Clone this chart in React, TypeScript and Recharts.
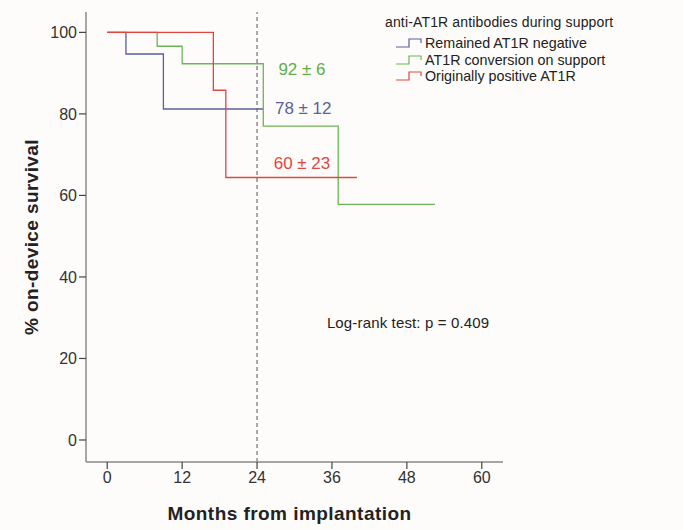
import React from "react";
import {
  Label,
  Line,
  LineChart,
  ReferenceDot,
  ReferenceLine,
  XAxis,
  YAxis,
} from "recharts";

const FONT = "Arial, 'Liberation Sans', sans-serif";

const xTicks = [0, 12, 24, 36, 48, 60];
const yTicks = [0, 20, 40, 60, 80, 100];

// Kaplan-Meier steps (months, % survival)
const negMonths = [0, 3, 9, 25];
const negSurv = [100, 94.7, 81.2, 81.2];
const convMonths = [0, 8, 12, 25, 37, 52.5];
const convSurv = [100, 96.6, 92.3, 77, 57.8, 57.8];
const posMonths = [0, 17, 19, 40];
const posSurv = [100, 85.8, 64.4, 64.4];

const seriesNames = [
  "Remained AT1R negative",
  "AT1R conversion on support",
  "Originally positive AT1R",
];
const seriesColors = ["#5b5f9c", "#6cb552", "#e2463f"];

const annotTexts = ["92 ± 6", "78 ± 12", "60 ± 23"];
const annotX = [31.2, 31.4, 31.2];
const annotY = [90.9, 81.4, 67.9];
const annotColors = ["#5fae45", "#5b5f9c", "#e2463f"];

const toRows = (months: number[], surv: number[]) =>
  months.map((m, i) => ({ month: m, surv: surv[i] }));

const series = [
  toRows(negMonths, negSurv),
  toRows(convMonths, convSurv),
  toRows(posMonths, posSurv),
];

function StepLegend() {
  return (
    <div style={{ fontFamily: FONT, color: "#222" }}>
      <div style={{ fontSize: 14, letterSpacing: 0.15, height: 20, lineHeight: "20px", marginBottom: 3 }}>
        anti-AT1R antibodies during support
      </div>
      {seriesNames.map((name, i) => (
        <div
          key={name}
          style={{ display: "flex", alignItems: "center", height: 16.4, paddingLeft: 10 }}
        >
          <svg width={28} height={14} style={{ marginRight: 2, flexShrink: 0 }}>
            <path
              d="M1,11 H14 V3 H26 V7"
              fill="none"
              stroke={seriesColors[i]}
              strokeWidth={1.2}
            />
          </svg>
          <span style={{ fontSize: 14.3, whiteSpace: "nowrap" }}>{name}</span>
        </div>
      ))}
    </div>
  );
}

export default function App() {
  return (
    <div
      style={{
        position: "absolute",
        left: 0,
        top: 0,
        width: 683,
        height: 530,
        background: "#fdfcfa",
      }}
    >
      <LineChart
        width={683}
        height={530}
        margin={{ top: 12, right: 180, bottom: 0, left: 0 }}
      >
        <XAxis
          type="number"
          dataKey="month"
          domain={[-3.4, 63.4]}
          ticks={xTicks}
          allowDataOverflow
          height={68}
          tickSize={7}
          tickMargin={3}
          axisLine={{ stroke: "#8a8a8a", strokeWidth: 1.5 }}
          tickLine={{ stroke: "#444", strokeWidth: 1.2 }}
          tick={{ fontSize: 16, fill: "#333", fontFamily: FONT }}
        >
          <Label
            value="Months from implantation"
            position="insideBottom"
            offset={10}
            dx={-5}
            style={{
              fontSize: 19,
              fontWeight: "bold",
              fill: "#222",
              fontFamily: FONT,
              letterSpacing: 0.45,
            }}
          />
        </XAxis>
        <YAxis
          type="number"
          dataKey="surv"
          domain={[-5.4, 105]}
          ticks={yTicks}
          allowDataOverflow
          width={86}
          tickSize={7}
          tickMargin={2}
          axisLine={{ stroke: "#8a8a8a", strokeWidth: 1.5 }}
          tickLine={{ stroke: "#444", strokeWidth: 1.2 }}
          tick={{ fontSize: 16, fill: "#333", fontFamily: FONT }}
        >
          <Label
            value="% on-device survival"
            angle={-90}
            position="insideLeft"
            offset={31}
            style={{
              fontSize: 19,
              fontWeight: "bold",
              fill: "#222",
              fontFamily: FONT,
              textAnchor: "middle",
              letterSpacing: 0.4,
            }}
          />
        </YAxis>
        <ReferenceLine
          x={24}
          stroke="#555"
          strokeDasharray="4 3"
          strokeWidth={1}
        />
        {series.map((rows, i) => (
          <Line
            key={seriesNames[i]}
            data={rows}
            dataKey="surv"
            name={seriesNames[i]}
            type="stepAfter"
            stroke={seriesColors[i]}
            strokeWidth={1.3}
            dot={false}
            activeDot={false}
            isAnimationActive={false}
          />
        ))}
        {annotTexts.map((t, i) => (
          <ReferenceDot
            key={t}
            x={annotX[i]}
            y={annotY[i]}
            r={0}
            shape={(p: any) => (
              <text
                x={p.cx}
                y={p.cy}
                textAnchor="middle"
                dominantBaseline="central"
                fontSize={17}
                fontFamily={FONT}
                fill={annotColors[i]}
              >
                {t}
              </text>
            )}
          />
        ))}
        <ReferenceDot
          x={48.2}
          y={28.9}
          r={0}
          shape={(p: any) => (
            <text
              x={p.cx}
              y={p.cy}
              textAnchor="middle"
              dominantBaseline="central"
              fontSize={15}
              fontFamily={FONT}
              fill="#222"
              letterSpacing={0.15}
            >
              Log-rank test: p = 0.409
            </text>
          )}
        />
      </LineChart>
      <div style={{ position: "absolute", left: 385, top: 12, width: 298 }}>
        <StepLegend />
      </div>
    </div>
  );
}
